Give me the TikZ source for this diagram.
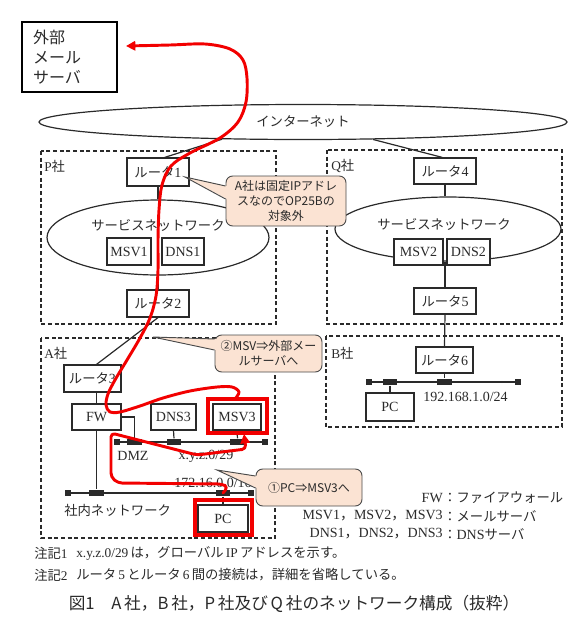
\documentclass[tikz,border=0pt]{standalone}
\usepackage{fontspec}
\setmainfont{Liberation Serif}
\newfontfamily\jp{Noto Sans CJK JP}
\usetikzlibrary{shapes.geometric,arrows.meta,calc}
\definecolor{ink}{HTML}{2A2A2A}
\definecolor{peach}{HTML}{FBE3D3}
\definecolor{hl}{HTML}{F20000}
\newcommand\routerlbl[1]{{\jp\fontsize{10}{12}\selectfont ルータ}#1}
\tikzset{
  box/.style={draw=ink, line width=0.9pt, fill=white, inner sep=0pt, text=ink, font=\fontsize{10.5}{12}\selectfont},
  zone/.style={draw=ink, line width=0.9pt, dash pattern=on 3pt off 2pt},
  blk/.style={fill=ink, minimum width=11pt, minimum height=5pt, inner sep=0pt},
  term/.style={fill=ink, minimum width=4.5pt, minimum height=5pt, inner sep=0pt},
  wire/.style={draw=ink, line width=0.9pt},
  lbl/.style={text=ink, inner sep=0pt, font=\fontsize{10}{12}\selectfont},
  lgd/.style={text=ink, inner sep=0pt, font=\fontsize{10.5}{12}\selectfont},
  netell/.style={draw=ink, line width=0.9pt, ellipse, inner sep=0pt},
  hlbox/.style={draw=hl, line width=2.6pt},
  redpath/.style={draw=hl, line width=2.2pt, line cap=round, line join=round},
  callout/.style={draw=ink!85, fill=peach, line width=0.7pt, rounded corners=5pt, inner sep=0pt, align=center, text=ink, font=\jp\fontsize{9}{11.2}\selectfont},
  wedge/.style={draw=ink!85, line width=0.7pt},
}
\begin{document}
\begin{tikzpicture}[x=0.75pt,y=-0.75pt]
\useasboundingbox (0,0) rectangle (588,619);

% external mail server
\node[draw=black, line width=0.8pt, minimum width=71.25pt, minimum height=52.5pt, text width=54.75pt, align=left, inner sep=0pt, text=ink, font=\jp\fontsize{12}{15}\selectfont] (ext) at (69.5,57) {外部\\メール\\サーバ};

% internet
\node[netell, minimum width=396pt, minimum height=26.25pt] (inet) at (303,122) {};
\node[lbl, font=\jp\fontsize{10}{12}\selectfont] (inetl) at (303,122) {インターネット};

% zones
\draw[zone] (41,151) rectangle (276,324);
\draw[zone] (327,150) rectangle (562,324);
\draw[zone] (41,338) rectangle (275,538);
\draw[zone] (326,336) rectangle (562,427);
\node[lbl, anchor=west] (pl) at (44,166) {P{\jp 社}};
\node[lbl, anchor=west] (ql) at (331,166) {Q{\jp 社}};
\node[lbl, anchor=west] (al) at (44,353) {A{\jp 社}};
\node[lbl, anchor=west] (bl) at (331,353) {B{\jp 社}};

% P company
\node[box, minimum width=46.5pt, minimum height=21pt] (r1) at (158,172) {\routerlbl{1}};
\node[netell, minimum width=166.5pt, minimum height=56.25pt] (psn) at (158,237.5) {};
\node[lbl, font=\jp\fontsize{10}{12}\selectfont] (psnl) at (158,226) {サービスネットワーク};
\node[box, minimum width=33pt, minimum height=20.25pt] (msv1) at (129,251.5) {MSV1};
\node[box, minimum width=31.5pt, minimum height=20.25pt] (dns1) at (183,251.5) {DNS1};
\node[box, minimum width=46.5pt, minimum height=20.25pt] (r2) at (158,303.5) {\routerlbl{2}};

% Q company
\node[box, minimum width=46.5pt, minimum height=19.5pt] (r4) at (445,171) {\routerlbl{4}};
\node[netell, minimum width=169.5pt, minimum height=48pt] (qsn) at (448,229) {};
\node[lbl, font=\jp\fontsize{10}{12}\selectfont] (qsnl) at (444,225) {サービスネットワーク};
\node[box, minimum width=36.75pt, minimum height=19.5pt] (msv2) at (418.5,252) {MSV2};
\node[box, minimum width=32.25pt, minimum height=19.5pt] (dns2) at (468.5,252) {DNS2};
\node[box, minimum width=46.5pt, minimum height=19.5pt] (r5) at (445,301) {\routerlbl{5}};

% B company
\node[box, minimum width=42.75pt, minimum height=19.5pt] (r6) at (444.5,360) {\routerlbl{6}};
\draw[wire] (368.5,382) -- (517.5,382);
\node[term] (bL) at (368.5,382) {};
\node[blk] (b1) at (390,382) {};
\node[blk] (b2) at (444.5,382) {};
\node[term] (bR) at (517.5,382) {};
\node[box, minimum width=36pt, minimum height=21pt] (pcb) at (390,407) {PC};
\node[lbl, anchor=west, font=\fontsize{10.5}{12}\selectfont] (bnet) at (423,397) {192.168.1.0/24};

% A company
\node[box, minimum width=42.75pt, minimum height=20.25pt] (r3) at (92.5,378.5) {\routerlbl{3}};
\node[box, minimum width=36.75pt, minimum height=19.5pt] (fw) at (96.5,417) {FW};
\node[box, minimum width=33.75pt, minimum height=19.5pt] (dns3) at (173.5,417) {DNS3};
\node[box, minimum width=36pt, minimum height=19.5pt] (msv3) at (237,417) {MSV3};
\draw[wire] (117,442) -- (265,442);
\node[term] (dzL) at (117,442) {};
\node[blk] (dz1) at (134.5,442) {};
\node[blk] (dz2) at (174,442) {};
\node[blk] (dz3) at (237.5,442) {};
\node[term] (dzR) at (265,442) {};
\node[lbl, font=\fontsize{10.5}{12}\selectfont] (dmzl) at (133,456) {DMZ};
\node[lbl, font=\fontsize{10.5}{12}\selectfont] (dmznet) at (206,456) {x.y.z.0/29};
\draw[wire] (68,493) -- (250.5,493);
\node[term] (inL) at (68,493) {};
\node[blk] (in1) at (96.5,493) {};
\node[blk] (in2) at (223,493) {};
\node[term] (inR) at (250.5,493) {};
\node[lbl, font=\fontsize{10.5}{12}\selectfont] (innet) at (213,483) {172.16.0.0/16};
\node[lbl, anchor=west, font=\jp\fontsize{10}{12}\selectfont] (inl) at (64,510) {社内ネットワーク};
\node[box, minimum width=37.5pt, minimum height=20.25pt] (pca) at (223,518.5) {PC};

% connectors
\draw[wire] (inet.192) -- ([xshift=5pt]r1.north);
\draw[wire] (inet.346) -- ([xshift=-2pt]r4.north);
\draw[wire] (r1.south) -- (psn.north);
\draw[wire] (psn.south) -- (r2.north);
\draw[wire] (r2.south) -- ([xshift=3pt]r3.north);
\draw[wire] (fw.north) -- (fw.north |- r3.south);
\draw[wire] (fw.east) -| (dz1.north);
\draw[wire] (dns3.south) -- (dz2.north);
\draw[wire] (msv3.south) -- (dz3.north);
\draw[wire] (fw.south) -- (in1.north);
\draw[wire] (in2.south) -- (pca.north);
\draw[wire] (r4.south) -- (r4.south |- qsn.north);
\draw[wire] (r5.north |- qsn.south) -- (r5.north);
\draw[wire] (r5.south) -- (r6.north);
\draw[wire] (r6.south) -- (b2.north);
\draw[wire] (b1.south) -- (pcb.north);

% legend
\node[lgd, anchor=east] (lg1a) at (443,498) {FW};
\node[lgd, anchor=west, font=\jp\fontsize{10}{12}\selectfont] (lg1b) at (443,498) {：ファイアウォール};
\node[lgd, anchor=east] (lg2a) at (443,516) {MSV1{\jp ，}MSV2{\jp ，}MSV3};
\node[lgd, anchor=west, font=\jp\fontsize{10}{12}\selectfont] (lg2b) at (443,516) {：メールサーバ};
\node[lgd, anchor=east] (lg3a) at (443,534) {DNS1{\jp ，}DNS2{\jp ，}DNS3};
\node[lgd, anchor=west] (lg3b) at (443,534) {{\jp\fontsize{10}{12}\selectfont ：}DNS{\jp\fontsize{10}{12}\selectfont サーバ}};

% notes
\node[lbl, anchor=west] (n1a) at (34,553) {{\jp 注記}1};
\node[lbl, anchor=west] (n1b) at (76,553) {x.y.z.0/29\,{\jp は，グローバル}\,IP\,{\jp アドレスを示す。}};
\node[lbl, anchor=west] (n2a) at (34,575) {{\jp 注記}2};
\node[lbl, anchor=west] (n2b) at (76,575) {{\jp ルータ}\,5\,{\jp とルータ}\,6\,{\jp 間の接続は，詳細を省略している。}};
\node[lbl, font=\jp\fontsize{12.5}{14}\selectfont] (cap) at (294,604) {図1\quad A\,社，B\,社，P\,社及び\,Q\,社のネットワーク構成（抜粋）};

% red highlights
\draw[hlbox] ([shift={(-4.5,-4.5)}]msv3.north west) rectangle ([shift={(5.5,2.5)}]msv3.south east);
\draw[hlbox] ([shift={(-2.5,-4.5)}]pca.north west) rectangle ([shift={(3.5,2.5)}]pca.south east);

% path 1: PC -> MSV3
\draw[redpath, rounded corners=3pt, -{Triangle[length=7pt,width=7pt]}] (in2.center) -- (228,487) -- (222,484) -- (118,483) -- (111,477) -- (111,433) -- (197,455) -- (246,449) -- (244,434);

% path 2: MSV3 -> external mail server
\draw[redpath, -{Triangle[length=7pt,width=7pt]}] plot[smooth, tension=0.55] coordinates {(235,399) (239,392) (232,387) (217,387) (190,391) (163,398) (140,406) (120,412) (110,412) (106,405) (108,394) (115,380) (127,360) (140,338) (150,318) (156,296) (158,270) (158,240) (159,210) (162,185) (171,166) (190,153) (220,138) (238,122) (246,102) (247,78) (243,60) (230,49) (205,44) (170,45) (126,46)};

% callouts
\node[callout, minimum width=90pt, minimum height=37.5pt] (c1) at (286,201) {A社は固定IPアドレ\\スなのでOP25Bの\\対象外};
\coordinate (t1) at (185,177);
\fill[peach] (t1) -- ($(c1.west)+(1.5,-15)$) -- ($(c1.west)+(1.5,-2)$) -- cycle;
\draw[wedge] ($(c1.west)+(0,-15)$) -- (t1) -- ($(c1.west)+(0,-2)$);

\node[callout, minimum width=80.25pt, minimum height=27.75pt] (c2) at (268.5,353.5) {②MSV⇒外部メー\\ルサーバへ};
\coordinate (t2) at (153,337);
\fill[peach] (t2) -- ($(c2.west)+(1.5,-14.5)$) -- ($(c2.west)+(1.5,-3.5)$) -- cycle;
\draw[wedge] ($(c2.west)+(0,-14.5)$) -- (t2) -- ($(c2.west)+(0,-3.5)$);

\node[callout, minimum width=79.5pt, minimum height=27.75pt] (c3) at (309,487.5) {①PC⇒MSV3へ};
\coordinate (t3) at (217,470);
\fill[peach] (t3) -- ($(c3.west)+(1.5,-11.5)$) -- ($(c3.west)+(1.5,0.5)$) -- cycle;
\draw[wedge] ($(c3.west)+(0,-11.5)$) -- (t3) -- ($(c3.west)+(0,0.5)$);
\end{tikzpicture}
\end{document}
